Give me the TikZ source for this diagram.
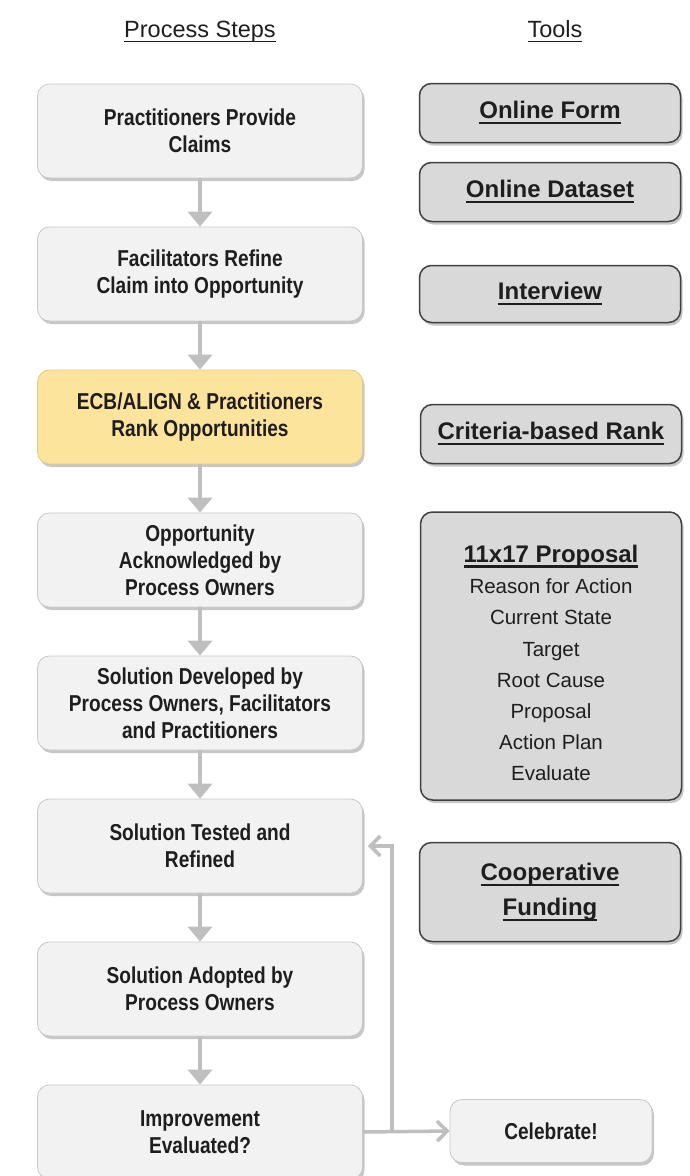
\documentclass[tikz,border=0pt]{standalone}
\usepackage{fontspec}
\setmainfont{Liberation Sans}
\newfontfamily\narrowsans[FakeStretch=0.83]{Liberation Sans}
\usetikzlibrary{arrows.meta,shadows,calc}

\definecolor{stepfill}{HTML}{F2F2F2}
\definecolor{stepline}{HTML}{C8C8C8}
\definecolor{rankfill}{HTML}{FDE49C}
\definecolor{rankline}{HTML}{E2CB84}
\definecolor{toolfill}{HTML}{D9D9D9}
\definecolor{toolline}{HTML}{404040}
\definecolor{flowgray}{HTML}{BFBFBF}
\definecolor{inkdark}{HTML}{1E1E1E}

% underlined text with a bar of given depth and thickness
\newcommand{\barunder}[3]{\setbox0=\hbox{#3}\rlap{\rule[-#1]{\wd0}{#2}}\box0}
\newcommand{\toolul}[1]{\barunder{5.5pt}{2.2pt}{#1}}
\newcommand{\headul}[1]{\barunder{5pt}{1.5pt}{#1}}

\tikzset{
  softshadow/.style={drop shadow={shadow xshift=2pt, shadow yshift=-3pt, fill=black, opacity=0.22}},
  stepbox/.style={draw=stepline, line width=0.8pt, fill=stepfill, rounded corners=12pt,
    minimum width=325pt, minimum height=94pt, inner sep=0pt, align=center, text=inkdark,
    font=\narrowsans\bfseries\fontsize{23}{27}\selectfont, softshadow},
  rankbox/.style={stepbox, fill=rankfill, draw=rankline},
  toolbox/.style={draw=toolline, line width=1.5pt, fill=toolfill, rounded corners=12pt,
    minimum width=261pt, inner sep=0pt, align=center, text=inkdark,
    font=\bfseries\fontsize{24}{35}\selectfont, softshadow},
  heading/.style={anchor=base, inner sep=0pt, text=inkdark, font=\fontsize{23.5}{28}\selectfont},
  flow/.style={draw=flowgray, line width=4.5pt, -{Triangle[width=24pt,length=15pt]}},
  loopback/.style={draw=flowgray, line width=3.5pt, -{Straight Barb[width=20pt,length=10pt]}},
}

\begin{document}
\begin{tikzpicture}[x=1pt, y=-1pt]
  \fill[white] (0,0) rectangle (690,1176);
  \useasboundingbox (0,0) rectangle (690,1176);

  % column headings
  \node[heading] (hsteps) at (200,37) {\headul{Process Steps}};
  \node[heading] (htools) at (555,37) {\headul{Tools}};

  % process steps
  \node[stepbox] (s1) at (200,131) {Practitioners Provide\\Claims};
  \node[stepbox] (s2) at (200,274) {Facilitators Refine\\Claim into Opportunity};
  \node[rankbox] (s3) at (200,417) {ECB/ALIGN \& Practitioners\\Rank Opportunities};
  \node[stepbox] (s4) at (200,560) {Opportunity\\Acknowledged by\\Process Owners};
  \node[stepbox] (s5) at (200,703) {Solution Developed by\\Process Owners, Facilitators\\and Practitioners};
  \node[stepbox] (s6) at (200,846) {Solution Tested and\\Refined};
  \node[stepbox] (s7) at (200,989) {Solution Adopted by\\Process Owners};
  \node[stepbox] (s8) at (200,1132) {Improvement\\Evaluated?};

  \foreach \a/\b in {s1/s2, s2/s3, s3/s4, s4/s5, s5/s6, s6/s7, s7/s8}
    \draw[flow] (\a.south) -- (\b.north);

  % tools
  \node[toolbox, minimum height=59pt] (tform) at (550,113) {\toolul{Online Form}};
  \node[toolbox, minimum height=59pt] (tdata) at (550,192) {\toolul{Online Dataset}};
  \node[toolbox, minimum height=57pt] (tinter) at (550,294) {\toolul{Interview}};
  \node[toolbox, minimum height=59pt] (trank) at (551,434) {\toolul{Criteria-based Rank}};
  \node[toolbox, minimum height=288pt] (tprop) at (551,656) {};
  \node[anchor=base, inner sep=0pt, text=inkdark, font=\bfseries\fontsize{24}{28}\selectfont]
    (tproptitle) at (551,562) {\toolul{11x17 Proposal}};
  \node[inner sep=0pt, align=center, text=inkdark, font=\fontsize{20.5}{31.2}\selectfont]
    (tproplist) at (551,680) {Reason for Action\\Current State\\Target\\Root Cause\\Proposal\\Action Plan\\Evaluate};
  \node[toolbox, minimum height=99pt] (tfund) at (550,892) {\toolul{Cooperative}\\\toolul{Funding}};

  % outcome
  \node[stepbox, minimum width=202pt, minimum height=63pt] (cel) at (551,1131) {Celebrate!};

  % evaluation split: celebrate, or loop back to testing
  \coordinate (split) at (392,1132);
  \draw[loopback] (s8.east) -- (cel.west);
  \draw[loopback] (split) |- ([xshift=5pt]s6.east);
\end{tikzpicture}
\end{document}
